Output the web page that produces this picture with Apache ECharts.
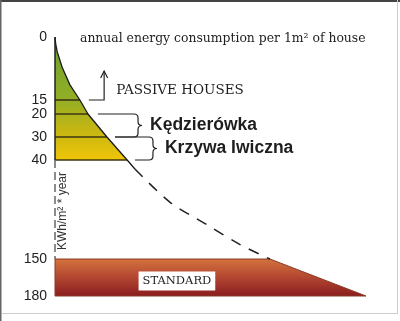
<!DOCTYPE html>
<html>
<head>
<meta charset="utf-8">
<script src="https://cdn.jsdelivr.net/npm/echarts@6/dist/echarts.min.js"></script>
<style>
html, body { margin: 0; padding: 0; background: #fff; }
#chart { width: 400px; height: 321px; }
</style>
</head>
<body>
<div id="chart"></div>
<script>
// kWh axis tick labels and the (broken, non linear) scale they sit on
var kwhTicks = [0, 15, 20, 30, 40, 150, 180];
var scaleStops = [0, 63, 77, 100, 123, 222, 259];

// consumption curve: solid part, then dashed part
var curveKwh = [0, 1.5, 3.5, 7.4, 11.4, 15, 20, 30, 40, 50];
var curveX = [0, 0.2, 0.7, 2.4, 4.8, 8.0, 10.6, 16.7, 23.2, 25.7];
var dashKwh = [50, 87, 112, 134, 150];
var dashX = [25.7, 37.0, 48.9, 59.5, 69.1];

// standard house band
var standardKwh = [150, 150, 180, 180];
var standardX = [0, 69.1, 100, 0];

// horizontal levels inside the green / yellow area
var levelKwh = [15, 20, 30, 40];

// passive houses arrow
var arrowKwh = [15, 8.1];
var arrowX = [10.9, 15.8];

// braces
var braceNames = ['Kędzierówka', 'Krzywa Iwiczna'];
var braceTop = [20, 30];
var braceBottom = [30, 40];
var braceX = [26.7, 31.5];
var braceArmTop = [13.8, 19.3];
var braceArmBottom = [19.3, 25.7];

function ky(v) {
    for (var i = 1; i < kwhTicks.length; i++) {
        if (v <= kwhTicks[i]) {
            var t = (v - kwhTicks[i - 1]) / (kwhTicks[i] - kwhTicks[i - 1]);
            return scaleStops[i - 1] + t * (scaleStops[i] - scaleStops[i - 1]);
        }
    }
    return scaleStops[scaleStops.length - 1];
}

function curveAt(k) {
    return curveX[curveKwh.indexOf(k)];
}

var serif = '"DejaVu Serif", "Liberation Serif", serif';
var sans = '"Liberation Sans", Arial, sans-serif';

var chart = echarts.init(document.getElementById('chart'));

var option = {
    backgroundColor: '#fff',
    animation: false,
    title: {
        text: 'annual energy consumption per 1m² of house',
        left: 75,
        top: 28,
        textStyle: {
            fontFamily: serif,
            fontSize: 12.4,
            fontWeight: 'normal',
            color: '#1e1e1e'
        }
    },
    grid: { left: 55, right: 34, top: 37, bottom: 25 },
    xAxis: {
        type: 'value',
        min: 0,
        max: 100,
        show: false
    },
    yAxis: {
        type: 'value',
        inverse: true,
        min: 0,
        max: scaleStops[scaleStops.length - 1],
        axisLine: { show: false },
        axisTick: { show: false },
        splitLine: { show: false },
        axisLabel: {
            customValues: kwhTicks.map(ky),
            formatter: function (v) {
                var i = kwhTicks.map(ky).indexOf(v);
                return i < 0 ? '' : String(kwhTicks[i]);
            },
            fontFamily: sans,
            fontSize: 14,
            color: '#222',
            margin: 8
        }
    },
    graphic: [
        { type: 'rect', shape: { x: 0, y: 0, width: 400, height: 2 }, style: { fill: '#444' } },
        { type: 'rect', shape: { x: 0, y: 0, width: 1.5, height: 321 }, style: { fill: '#666' } },
        { type: 'rect', shape: { x: 397, y: 0, width: 1, height: 314 }, style: { fill: '#ccc' } },
        { type: 'rect', shape: { x: 2, y: 313, width: 396, height: 1 }, style: { fill: '#ccc' } }
    ],
    series: [
        {
            type: 'custom',
            name: 'areas',
            data: [[0, 0]],
            z: 1,
            renderItem: function (params, api) {
                var last = levelKwh[levelKwh.length - 1];
                var top = [api.coord([0, ky(0)])];
                curveKwh.forEach(function (k, i) {
                    if (k <= last) top.push(api.coord([curveX[i], ky(k)]));
                });
                top.push(api.coord([0, ky(last)]));

                var band = standardX.map(function (x, i) {
                    return api.coord([x, ky(standardKwh[i])]);
                });

                var children = [
                    {
                        type: 'polygon',
                        shape: { points: top },
                        style: {
                            fill: new echarts.graphic.LinearGradient(0, 0, 0, 1, [
                                { offset: 0, color: '#69a031' },
                                { offset: 0.5, color: '#92ae26' },
                                { offset: 0.75, color: '#c4b613' },
                                { offset: 1, color: '#f0c508' }
                            ])
                        }
                    },
                    {
                        type: 'polygon',
                        shape: { points: band },
                        style: {
                            fill: new echarts.graphic.LinearGradient(0, 0, 0, 1, [
                                { offset: 0, color: '#d4733e' },
                                { offset: 0.5, color: '#b24630' },
                                { offset: 1, color: '#891c1f' }
                            ]),
                            stroke: '#8a3b25',
                            lineWidth: 1
                        }
                    }
                ];

                levelKwh.forEach(function (k) {
                    var a = api.coord([0, ky(k)]);
                    var b = api.coord([curveAt(k), ky(k)]);
                    children.push({
                        type: 'line',
                        shape: { x1: a[0], y1: a[1], x2: b[0], y2: b[1] },
                        style: { stroke: '#3b3512', lineWidth: 1.6 }
                    });
                });

                var p0 = api.coord([0, ky(0)]);
                var p40 = api.coord([0, ky(last)]);
                var p150 = api.coord([0, ky(standardKwh[0])]);
                children.push({
                    type: 'line',
                    shape: { x1: p0[0], y1: p0[1], x2: p40[0], y2: p40[1] },
                    style: { stroke: '#222', lineWidth: 1.5 }
                });
                children.push({
                    type: 'line',
                    shape: { x1: p40[0], y1: p40[1], x2: p150[0], y2: p150[1] },
                    style: { stroke: '#666', lineWidth: 1.5, lineDash: [8, 4] }
                });

                return { type: 'group', children: children };
            }
        },
        {
            type: 'line',
            name: 'curve',
            data: curveX.map(function (x, i) { return [x, ky(curveKwh[i])]; }),
            symbol: 'none',
            z: 3,
            lineStyle: { color: '#1a1a1a', width: 1.3 }
        },
        {
            type: 'line',
            name: 'projection',
            data: dashX.map(function (x, i) { return [x, ky(dashKwh[i])]; }),
            symbol: 'none',
            smooth: 0.3,
            z: 3,
            lineStyle: { color: '#222', width: 1.5, type: [11, 9] }
        },
        {
            type: 'custom',
            name: 'notes',
            data: [[0, 0]],
            z: 4,
            renderItem: function (params, api) {
                var children = [];
                var ink = { stroke: '#222', lineWidth: 1.2, fill: null };

                // arrow to passive houses
                var a0 = api.coord([arrowX[0], ky(arrowKwh[0])]);
                var a1 = api.coord([arrowX[1], ky(arrowKwh[0])]);
                var a2 = api.coord([arrowX[1], ky(arrowKwh[1])]);
                children.push({
                    type: 'polyline',
                    shape: { points: [a0, a1, a2] },
                    style: ink
                });
                children.push({
                    type: 'polyline',
                    shape: { points: [[a2[0] - 3.5, a2[1] + 7], a2, [a2[0] + 3.5, a2[1] + 7]] },
                    style: ink
                });
                children.push({
                    type: 'text',
                    x: a1[0] + 12,
                    y: (a1[1] + a2[1]) / 2 + 5,
                    style: {
                        text: 'PASSIVE HOUSES',
                        fontFamily: serif,
                        fontSize: 13.5,
                        fill: '#1e1e1e',
                        verticalAlign: 'middle'
                    }
                });

                // braces with the two labels
                braceNames.forEach(function (name, i) {
                    var t = api.coord([braceX[i], ky(braceTop[i])]);
                    var b = api.coord([braceX[i], ky(braceBottom[i])]);
                    var l1 = api.coord([braceArmTop[i], ky(braceTop[i])]);
                    var l2 = api.coord([braceArmBottom[i], ky(braceBottom[i])]);
                    var x = t[0], y1 = t[1], y2 = b[1], ym = (y1 + y2) / 2, r = 4;
                    var d = 'M' + l1[0] + ' ' + y1 +
                        ' L' + (x - r) + ' ' + y1 +
                        ' Q' + x + ' ' + y1 + ' ' + x + ' ' + (y1 + r) +
                        ' L' + x + ' ' + (ym - r) +
                        ' Q' + x + ' ' + ym + ' ' + (x + r) + ' ' + ym +
                        ' Q' + x + ' ' + ym + ' ' + x + ' ' + (ym + r) +
                        ' L' + x + ' ' + (y2 - r) +
                        ' Q' + x + ' ' + y2 + ' ' + (x - r) + ' ' + y2 +
                        ' L' + l2[0] + ' ' + y2;
                    children.push({
                        type: 'path',
                        shape: { pathData: d },
                        style: { stroke: '#222', lineWidth: 1.2, fill: null }
                    });
                    children.push({
                        type: 'text',
                        x: x + r + 8,
                        y: ym,
                        style: {
                            text: name,
                            fontFamily: sans,
                            fontWeight: 'bold',
                            fontSize: 17.5,
                            fill: '#1e1e1e',
                            verticalAlign: 'middle'
                        }
                    });
                });

                // axis unit, written up the axis
                var u = api.coord([2.6, ky(96.7)]);
                children.push({
                    type: 'text',
                    x: u[0],
                    y: u[1],
                    rotation: Math.PI / 2,
                    style: {
                        text: 'KWh/m² * year',
                        fontFamily: sans,
                        fontSize: 12,
                        fill: '#333',
                        align: 'center',
                        verticalAlign: 'middle'
                    }
                });

                // standard label
                var s = api.coord([39.2, ky(167.8)]);
                children.push({
                    type: 'text',
                    x: s[0],
                    y: s[1],
                    style: {
                        text: 'STANDARD',
                        fontFamily: serif,
                        fontSize: 11.5,
                        fill: '#1e1e1e',
                        align: 'center',
                        verticalAlign: 'middle',
                        backgroundColor: '#fff',
                        padding: [4, 4, 3, 4]
                    }
                });

                return { type: 'group', children: children };
            }
        }
    ]
};

chart.setOption(option);
</script>
</body>
</html>
